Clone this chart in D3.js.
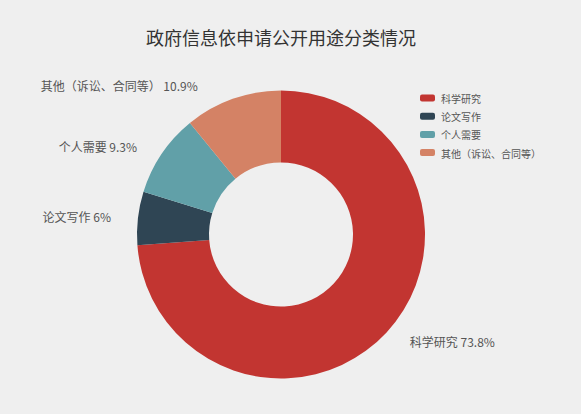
<!DOCTYPE html>
<html>
<head>
<meta charset="utf-8">
<script src="https://cdn.jsdelivr.net/npm/d3@7/dist/d3.min.js"></script>
<style>
  html, body { margin: 0; padding: 0; background: #efefef; }
  svg { display: block; font-family: "Noto Sans CJK SC", "Noto Sans", sans-serif; }
</style>
</head>
<body>
<svg id="chart" width="581" height="414"></svg>
<script>
const title = "政府信息依申请公开用途分类情况";
const categories = ["科学研究", "论文写作", "个人需要", "其他（诉讼、合同等）"];
const values = [73.8, 6, 9.3, 10.9];
const colors = ["#c23531", "#2f4554", "#61a0a8", "#d48265"];

const W = 581, H = 414;
const cx = 281, cy = 234.5;
const outerR = 144, innerR = 72;
const labelR = 158, labelGap = 13;

const svg = d3.select("#chart");
svg.append("rect").attr("width", W).attr("height", H).attr("fill", "#efefef");

svg.append("text")
  .attr("x", 281).attr("y", 37)
  .attr("text-anchor", "middle").attr("dominant-baseline", "central")
  .attr("font-size", 18).attr("fill", "#333")
  .text(title);

const data = categories.map((c, i) => ({ name: c, value: values[i] }));
const color = d3.scaleOrdinal().domain(categories).range(colors);

const pie = d3.pie().value(d => d.value).sort(null);
const arcs = pie(data);
const arc = d3.arc().innerRadius(innerR).outerRadius(outerR);

const g = svg.append("g").attr("transform", `translate(${cx},${cy})`);
g.selectAll("path").data(arcs).enter().append("path")
  .attr("d", arc)
  .attr("fill", d => color(d.data.name));

g.selectAll("text.lbl").data(arcs).enter().append("text")
  .attr("class", "lbl")
  .each(function(d) {
    const a = (d.startAngle + d.endAngle) / 2;
    const px = labelR * Math.sin(a), py = -labelR * Math.cos(a);
    const right = px >= 0;
    // labels near the top get pushed further out horizontally
    const gap = labelGap + Math.max(0, Math.abs(Math.cos(a)) - 0.75) * 90;
    d3.select(this)
      .attr("x", px + (right ? gap : -gap))
      .attr("y", py)
      .attr("text-anchor", right ? "start" : "end");
  })
  .attr("dominant-baseline", "central")
  .attr("font-size", 12).attr("fill", "#555")
  .text(d => `${d.data.name} ${d.data.value}%`);

const legend = svg.append("g").attr("transform", "translate(420,98)");
const items = legend.selectAll("g").data(categories).enter().append("g")
  .attr("transform", (d, i) => `translate(0,${i * 18.2})`);
items.append("rect")
  .attr("x", 0).attr("y", -3.5).attr("width", 15).attr("height", 7)
  .attr("rx", 2).attr("fill", d => color(d));
items.append("text")
  .attr("x", 21).attr("y", 0.5)
  .attr("dominant-baseline", "central")
  .attr("font-size", 10).attr("fill", "#555")
  .text(d => d);
</script>
</body>
</html>
